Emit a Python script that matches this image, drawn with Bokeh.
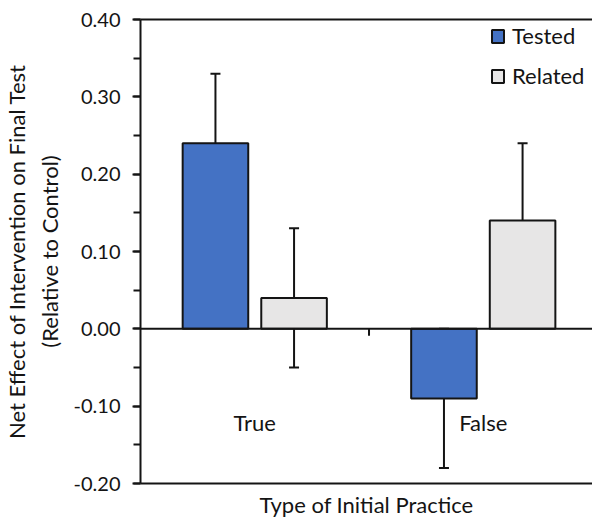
from bokeh.plotting import figure
from bokeh.models import (ColumnDataSource, Range1d, SingleIntervalTicker, NumeralTickFormatter,
                          LinearAxis, FixedTicker, Span, Whisker, TeeHead, Legend, LegendItem)
from bokeh.core.properties import value
from bokeh.embed import file_html
from bokeh.resources import INLINE

# ---- data ----
categories = ["True", "False"]
series = ["Tested", "Related"]
tested = [0.24, -0.09]
tested_lo = [0.14, -0.18]
tested_hi = [0.33, 0.00]
related = [0.04, 0.14]
related_lo = [-0.05, 0.04]
related_hi = [0.13, 0.24]
y_min, y_max = -0.20, 0.40

# ---- style ----
FONT = "Lato"
TXT = "#141414"
LINE = "#141414"
colors = {"Tested": "#4472C4", "Related": "#E7E6E6"}
bar_w = 0.287
offsets = {"Tested": -0.172, "Related": 0.172}
LABEL_Y = -0.121
FS = "22px"
LW = 2

p = figure(width=592, height=520, output_backend="svg", toolbar_location=None,
           x_range=Range1d(-0.5, 1.478), y_range=Range1d(y_min, y_max),
           min_border_left=137, min_border_right=0, min_border_top=19, min_border_bottom=36)
p.grid.visible = False
p.outline_line_color = None
p.background_fill_color = "white"
p.border_fill_color = "white"

idx = list(range(len(categories)))
vals = {"Tested": (tested, tested_lo, tested_hi), "Related": (related, related_lo, related_hi)}
items = []
for s in series:
    v, lo, hi = vals[s]
    src = ColumnDataSource(dict(x=[i + offsets[s] for i in idx], top=v, lo=lo, hi=hi))
    r = p.vbar(x="x", top="top", bottom=0, width=bar_w, source=src,
               fill_color=colors[s], line_color=LINE, line_width=LW)
    items.append(LegendItem(label=s, renderers=[r]))
    p.add_layout(Whisker(source=src, base="x", lower="lo", upper="hi", line_color=LINE, line_width=LW,
                         upper_head=TeeHead(size=10, line_color=LINE, line_width=LW),
                         lower_head=TeeHead(size=10, line_color=LINE, line_width=LW)))

# zero line
p.add_layout(Span(location=0, dimension="width", line_color=LINE, line_width=LW))
# category separator tick below zero line
sep = [(idx[i] + idx[i + 1]) / 2 for i in range(len(idx) - 1)]
p.segment(x0=sep, y0=[0] * len(sep), x1=sep, y1=[-0.009] * len(sep), line_color=LINE, line_width=LW)

# category labels
p.text(x=idx, y=[LABEL_Y] * len(idx), text=categories, text_align="center", text_baseline="alphabetic",
       text_font=value(FONT), text_font_size=FS, text_color=TXT)

# y axis
ya = p.yaxis[0]
ya.ticker = SingleIntervalTicker(interval=0.1, num_minor_ticks=2)
ya.formatter = NumeralTickFormatter(format="0.00")
ya.axis_line_color = LINE
ya.axis_line_width = LW
ya.major_tick_line_color = LINE
ya.major_tick_line_width = LW
ya.major_tick_out = 8
ya.major_tick_in = 0
ya.minor_tick_line_color = LINE
ya.minor_tick_line_width = LW
ya.minor_tick_out = 7
ya.minor_tick_in = 0
ya.major_label_standoff = 12
ya.major_label_text_font = FONT
ya.major_label_text_font_size = "20px"
ya.major_label_text_color = TXT
ya.axis_label = "Net Effect of Intervention on Final Test\n(Relative to Control)"
ya.axis_label_text_font = FONT
ya.axis_label_text_font_size = FS
ya.axis_label_text_font_style = "normal"
ya.axis_label_text_color = TXT
ya.axis_label_standoff = 8

# x axis (bottom)
xa = p.xaxis[0]
xa.ticker = FixedTicker(ticks=[])
xa.axis_line_color = LINE
xa.axis_line_width = LW
xa.major_tick_out = 0
xa.minor_tick_out = 0
xa.major_label_standoff = 0
xa.axis_label = "Type of Initial Practice"
xa.axis_label_text_font = FONT
xa.axis_label_text_font_size = FS
xa.axis_label_text_font_style = "normal"
xa.axis_label_text_color = TXT
xa.axis_label_standoff = 7

# top border line
top = LinearAxis(ticker=FixedTicker(ticks=[]), axis_line_color=LINE, axis_line_width=LW,
                 major_tick_out=0, minor_tick_out=0, major_label_standoff=0,
                 major_label_text_font_size="0px")
p.add_layout(top, "above")

legend = Legend(items=items, location="top_right", margin=0, padding=3, spacing=13,
                glyph_width=15, glyph_height=16, label_standoff=7, label_width=77, label_height=20,
                label_text_font=FONT, label_text_font_size=FS, label_text_color=TXT,
                background_fill_alpha=0, border_line_color="white", border_line_alpha=0)
p.add_layout(legend)

open("out.html", "w").write(file_html(p, INLINE))
